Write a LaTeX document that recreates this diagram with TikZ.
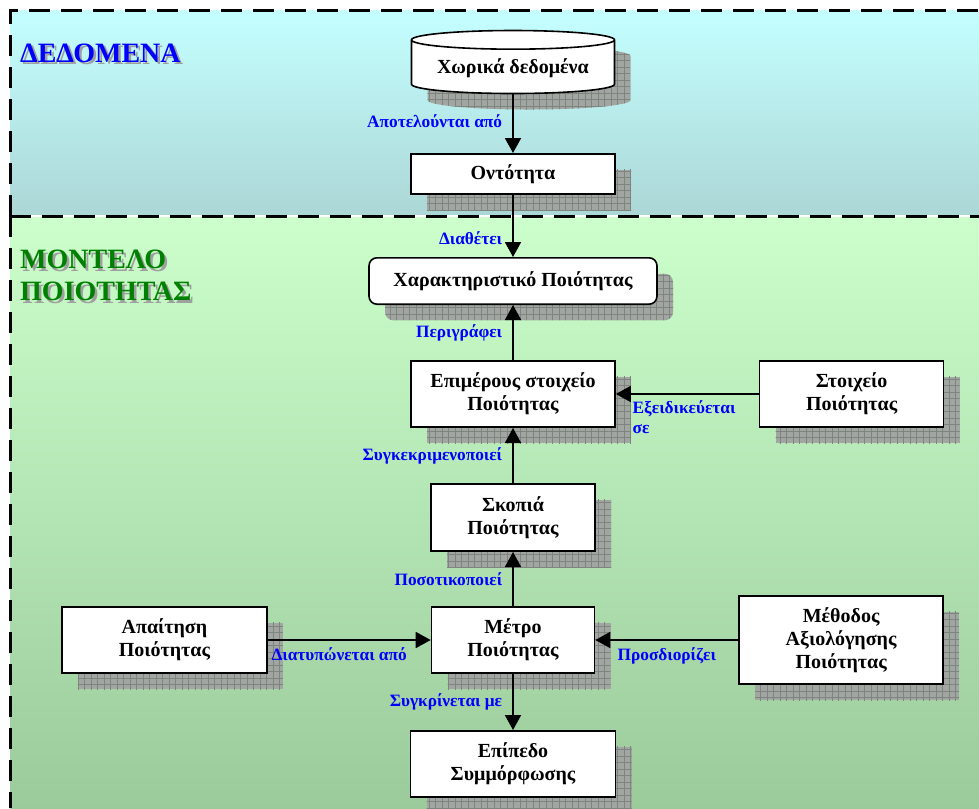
\documentclass[tikz,border=0pt]{standalone}
\usepackage{fontspec}
\setmainfont{Liberation Serif}
\usetikzlibrary{positioning,arrows.meta,shapes.geometric,shadows,patterns}
\definecolor{DataTop}{RGB}{196,255,255}
\definecolor{DataBottom}{RGB}{172,214,214}
\definecolor{ModelTop}{RGB}{204,255,204}
\definecolor{ModelBottom}{RGB}{155,202,155}
\definecolor{ShadowGray}{RGB}{162,166,162}
\definecolor{GridGray}{RGB}{126,132,126}
\definecolor{TitleGreen}{RGB}{0,128,0}
\pgfdeclarepatternformonly{shadowgrid}{\pgfqpoint{-1pt}{-1pt}}{\pgfqpoint{7.5pt}{7.5pt}}{\pgfqpoint{6.5pt}{6.5pt}}{
  \pgfsetlinewidth{0.6pt}
  \pgfpathmoveto{\pgfqpoint{0pt}{0pt}}\pgfpathlineto{\pgfqpoint{6.5pt}{0pt}}
  \pgfpathmoveto{\pgfqpoint{0pt}{0pt}}\pgfpathlineto{\pgfqpoint{0pt}{6.5pt}}
  \pgfusepath{stroke}}

\begin{document}
\begin{tikzpicture}[x=1pt, y=-1pt,
    boxshadow/.style={general shadow={fill=ShadowGray, shadow xshift=16pt, shadow yshift=-16pt},
                      general shadow={pattern=shadowgrid, pattern color=GridGray, shadow xshift=16pt, shadow yshift=-16pt}},
    box/.style={rectangle, draw=black, line width=1.6pt, fill=white, align=center,
                inner sep=2pt, font=\fontsize{20}{23}\selectfont\bfseries, boxshadow},
    store/.style={box, cylinder, shape border rotate=90, aspect=0.12},
    lbl/.style={text=blue, inner sep=0pt, font=\fontsize{17.3}{20}\selectfont\bfseries},
    arrow/.style={-{Triangle[length=15pt, width=16pt]}, line width=1.8pt},
    regionline/.style={line width=3pt, dash pattern=on 21pt off 11pt},
    regiontitle/.style={align=left, inner sep=0pt, font=\fontsize{28}{32}\selectfont\bfseries}
]
    \useasboundingbox (0,0) rectangle (979,808);

    % regions
    \shade[top color=DataTop, bottom color=DataBottom] (10,11) rectangle (979,216);
    \shade[top color=ModelTop, bottom color=ModelBottom] (10,216) rectangle (979,808);
    \draw[regionline] (10,216) -- (10,11) -- (979,11);
    \draw[white, line width=1.2pt] (10,216) -- (979,216);
    \draw[regionline] (10,216) -- (979,216);
    \draw[regionline] (10,216) -- (10,808);

    \node[regiontitle, anchor=west, text=gray!75, xshift=2.5pt, yshift=-2.5pt] (datashadow) at (20,53) {ΔΕΔΟΜΕΝΑ};
    \node[regiontitle, anchor=west, text=blue] (datatitle) at (20,53) {ΔΕΔΟΜΕΝΑ};
    \node[regiontitle, anchor=north west, text=gray!75, xshift=2.5pt, yshift=-2.5pt] (modelshadow) at (20,250) {ΜΟΝΤΕΛΟ\\ΠΟΙΟΤΗΤΑΣ};
    \node[regiontitle, anchor=north west, text=TitleGreen] (modeltitle) at (20,250) {ΜΟΝΤΕΛΟ\\ΠΟΙΟΤΗΤΑΣ};

    % main column
    \node[store, minimum width=203pt, minimum height=63pt] (data) at (513,68) {Χωρικά δεδομένα};
    \node[box, minimum width=204pt, minimum height=40.4pt] (entity) at (513,174) {Οντότητα};
    \node[box, rounded corners=8pt, minimum width=288pt, minimum height=46.4pt, below=62pt of entity] (feature) {Χαρακτηριστικό Ποιότητας};
    \node[box, minimum width=204pt, minimum height=66.4pt, below=55pt of feature] (subelem) {Επιμέρους στοιχείο\\Ποιότητας};
    \node[box, minimum width=164pt, minimum height=67.4pt, below=55pt of subelem] (view) {Σκοπιά\\Ποιότητας};
    \node[box, minimum width=163pt, minimum height=66.4pt, below=54pt of view] (measure) {Μέτρο\\Ποιότητας};
    \node[box, minimum width=205pt, minimum height=66.4pt, below=56pt of measure] (level) {Επίπεδο\\Συμμόρφωσης};

    % side nodes
    \node[box, minimum width=184pt, minimum height=66.4pt, right=143pt of subelem] (element) {Στοιχείο\\Ποιότητας};
    \node[box, minimum width=205pt, minimum height=66.4pt, left=163pt of measure] (require) {Απαίτηση\\Ποιότητας};
    \node[box, minimum width=204pt, minimum height=88.4pt, right=143pt of measure] (method) {Μέθοδος\\Αξιολόγησης\\Ποιότητας};

    \draw[arrow] (data) -- node[lbl, left=10pt, pos=0.45] {Αποτελούνται από} (entity);
    \draw[arrow] (entity) -- node[lbl, left=10pt, pos=0.7] {Διαθέτει} (feature);
    \draw[arrow] (subelem) -- node[lbl, left=10pt] {Περιγράφει} (feature);
    \draw[arrow] (view) -- node[lbl, left=10pt] {Συγκεκριμενοποιεί} (subelem);
    \draw[arrow] (measure) -- node[lbl, left=10pt] {Ποσοτικοποιεί} (view);
    \draw[arrow] (measure) -- node[lbl, left=10pt] {Συγκρίνεται με} (level);
    \draw[arrow] (element) -- node[lbl, pos=1, anchor=north west, align=left, xshift=16pt, yshift=-6pt] {Εξειδικεύεται\\σε} (subelem);
    \draw[arrow] (require) -- node[lbl, pos=0, anchor=north west, xshift=3pt, yshift=-7pt] {Διατυπώνεται από} (measure);
    \draw[arrow] (method) -- node[lbl, below=7pt] {Προσδιορίζει} (measure);
\end{tikzpicture}
\end{document}
